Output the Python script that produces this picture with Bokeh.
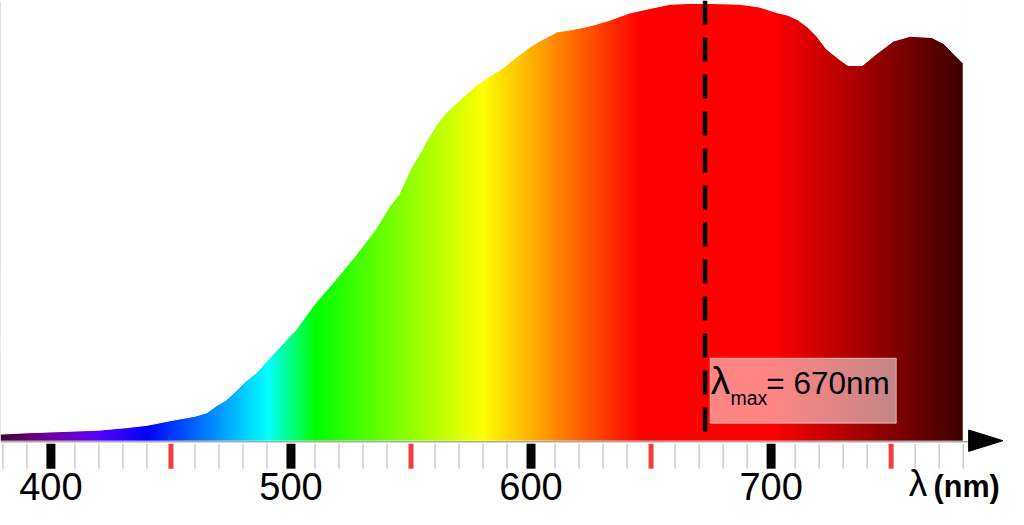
import numpy as np
from bokeh.plotting import figure
from bokeh.models import Range1d
from bokeh.core.properties import value
from bokeh.embed import file_html
from bokeh.resources import INLINE

# ---- data (relative intensity, peak = 100) ----
wavelength = [379, 390, 400, 410, 420, 430, 440, 450, 460, 465, 469, 473, 477,
              481, 486, 490, 494, 502, 510, 518, 527, 535, 541, 545, 550, 554,
              557, 561, 565, 573, 577, 583, 588, 592, 600, 605, 611, 617, 625,
              633, 641, 650, 658, 666, 674, 687, 695, 703, 707, 711, 715, 719,
              723, 728, 732, 738, 744, 751, 758, 767, 772, 776, 780]
intensity = [1.5, 1.8, 2.0, 2.2, 2.4, 2.9, 3.5, 4.6, 5.6, 6.4, 8.0, 9.3, 11.3,
             13.5, 15.7, 18.2, 20.6, 25.3, 31.3, 36.4, 42.4, 48.1, 53.5, 56.3,
             62.3, 65.9, 69.0, 72.5, 75.2, 79.2, 81.2, 83.4, 85.1, 86.9, 90.2,
             91.8, 93.5, 94.0, 94.9, 96.2, 97.8, 98.9, 99.8, 100.0, 100.0, 99.8,
             99.2, 97.8, 97.3, 96.3, 94.7, 92.5, 89.6, 87.4, 85.8, 85.8, 88.5,
             91.4, 92.5, 92.2, 90.8, 88.5, 86.3]

minor_ticks = list(range(380, 781, 10))
major_ticks = [400, 500, 600, 700]
major_labels = ["400", "500", "600", "700"]
half_ticks = [450, 550, 650, 750]
lambda_max_line = 672.5
lambda_max_label = "= 670nm"

# ---- layout constants ----
W, H = 1008, 509
X0, X1 = 379.0, 798.9
Y0, Y1 = -15.74, 100.67
UPP = (Y1 - Y0) / H            # data units per pixel (vertical)
FONT = value("Liberation Sans")

def y_for(baseline_px, font_px):
    """data y that puts the text's visible baseline at baseline_px (from top)."""
    return Y1 - (baseline_px - 0.38 * font_px) * UPP

p = figure(width=W, height=H, x_range=Range1d(X0, X1), y_range=Range1d(Y0, Y1),
           output_backend="svg", toolbar_location=None, x_axis_type=None,
           y_axis_type=None, min_border=0)
p.grid.visible = False
p.outline_line_color = None
p.background_fill_color = "white"
p.border_fill_color = "white"

# ---- spectral colour strip (colour map of wavelength) ----
def wl_rgb(w):
    if w < 440:
        r, g, b = -(w - 440) / 60.0, 0.0, 1.0
    elif w < 490:
        r, g, b = 0.0, (w - 440) / 50.0, 1.0
    elif w < 510:
        r, g, b = 0.0, 1.0, -(w - 510) / 20.0
    elif w < 580:
        r, g, b = (w - 510) / 70.0, 1.0, 0.0
    elif w < 645:
        r, g, b = 1.0, -(w - 645) / 65.0, 0.0
    else:
        r, g, b = 1.0, 0.0, 0.0
    if w < 420:
        f = 0.25 + 0.75 * (w - 380) / 40.0
    elif w > 700:
        f = 0.24 + 0.76 * (780 - w) / 80.0
    else:
        f = 1.0
    f = max(min(f, 1.0), 0.22)
    return [int(round(255 * min(max(c * f, 0), 1))) for c in (r, g, b)]

w_lo, w_hi = wavelength[0], wavelength[-1]
cols = np.arange(w_lo, w_hi + 0.5, 0.5)
img = np.zeros((1, len(cols)), dtype=np.uint32)
view = img.view(dtype=np.uint8).reshape((1, len(cols), 4))
for i, w in enumerate(cols):
    r, g, b = wl_rgb(w)
    view[0, i] = [r, g, b, 255]
p.image_rgba(image=[img], x=w_lo, y=0, dw=w_hi - w_lo, dh=max(intensity) + 0.4)

# white mask above the measured curve
mask_x = list(wavelength) + [w_hi + 0.3, w_hi + 0.3, w_lo - 1]
mask_y = list(intensity) + [intensity[-1], Y1 + 2, Y1 + 2]
p.patch(mask_x, mask_y, fill_color="white", line_color="white", line_width=1)
p.segment(x0=[w_hi + 0.15], y0=[0], x1=[w_hi + 0.15], y1=[intensity[-1]],
          line_color="white", line_width=1.5)

# ---- ruler axis ----
p.segment(x0=[w_lo], y0=[-0.25], x1=[782.5], y1=[-0.25], line_color="#aaaaaa", line_width=1.5)
p.segment(x0=minor_ticks, y0=[-0.7] * len(minor_ticks), x1=minor_ticks,
          y1=[-6.4] * len(minor_ticks), line_color="#b5b5b5", line_width=1)
p.segment(x0=half_ticks, y0=[-0.7] * 4, x1=half_ticks, y1=[-6.4] * 4,
          line_color="#f23c3c", line_width=5)
p.segment(x0=major_ticks, y0=[-0.7] * 4, x1=major_ticks, y1=[-6.4] * 4,
          line_color="black", line_width=9)

# arrow head at the end of the axis
ax_end, head_len, head_half = 782.3, 14.3, 2.45
p.patch([ax_end, ax_end + head_len, ax_end], [head_half, 0, -head_half],
        fill_color="black", line_color="black", line_width=1)

f_tick, f_lam, f_nm = 38.0, 37.0, 30.5
p.text(x=major_ticks, y=[y_for(500.5, f_tick)] * 4, text=major_labels, text_font=FONT,
       text_font_size=f"{f_tick}px", text_align="center",
       text_baseline="alphabetic", text_color="black")
p.text(x=[757.3], y=[y_for(497.0, f_lam)], text=["λ"], text_font=FONT,
       text_font_size=f"{f_lam}px", text_align="left",
       text_baseline="alphabetic", text_color="black")
p.text(x=[767.7], y=[y_for(497.0, f_nm)], text=["(nm)"], text_font=FONT,
       text_font_size=f"{f_nm}px", text_font_style="bold", text_align="left",
       text_baseline="alphabetic", text_color="black")

# ---- lambda max marker ----
p.segment(x0=[lambda_max_line], y0=[Y1], x1=[lambda_max_line], y1=[0],
          line_color="black", line_width=4.5, line_dash="24 13")
p.quad(left=[674.65], right=[752.15], bottom=[4.0], top=[18.85],
       fill_color="white", fill_alpha=0.52, line_color="white", line_alpha=0.55,
       line_width=1)
f_bl, f_sub, f_val = 39.0, 19.5, 31.5
p.text(x=[674.9], y=[y_for(394.6, f_bl)], text=["λ"], text_font=FONT,
       text_font_size=f"{f_bl}px", text_align="left",
       text_baseline="alphabetic", text_color="black")
p.text(x=[683.1], y=[y_for(405.3, f_sub)], text=["max"], text_font=FONT,
       text_font_size=f"{f_sub}px", text_align="left",
       text_baseline="alphabetic", text_color="black")
p.text(x=[698.0], y=[y_for(394.6, f_val)], text=[lambda_max_label], text_font=FONT,
       text_font_size=f"{f_val}px", text_align="left",
       text_baseline="alphabetic", text_color="black")

open("out.html", "w").write(file_html(p, INLINE))
